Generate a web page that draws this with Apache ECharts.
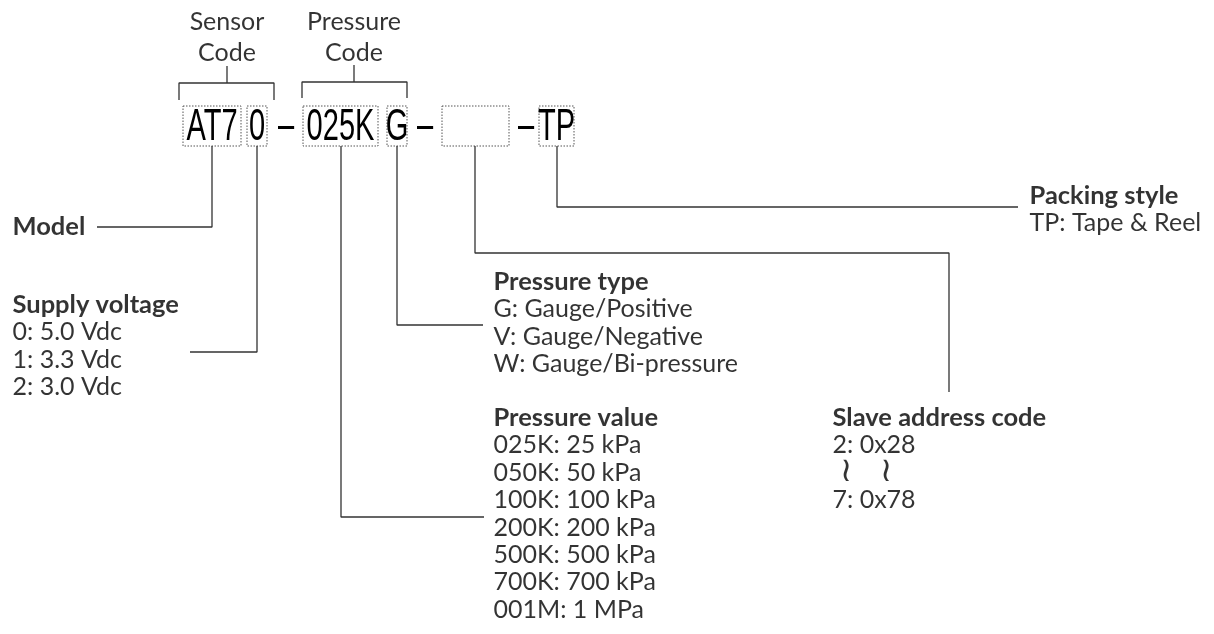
<!DOCTYPE html>
<html>
<head>
<meta charset="utf-8">
<script src="https://cdn.jsdelivr.net/npm/echarts@6/dist/echarts.min.js"></script>
<style>
  html, body { margin: 0; padding: 0; background: #fff; }
  #chart { width: 1214px; height: 634px; }
</style>
</head>
<body>
<div id="chart"></div>
<script>
// part number pieces, shown in dotted boxes
const codeParts = ['AT7', '0', '025K', 'G', '', 'TP'];
const codeBoxX = [[183, 241], [247, 267], [303, 378], [387, 407], [442, 509], [539, 574]];
const dashX = [286, 425, 526];

// captions above brackets
const captions = [['Sensor', 'Code'], ['Pressure', 'Code']];
const captionX = [227, 354];

// legend blocks: heading + lines
const modelTitle = 'Model';
const supplyTitle = 'Supply voltage';
const supplyItems = ['0: 5.0 Vdc', '1: 3.3 Vdc', '2: 3.0 Vdc'];
const typeTitle = 'Pressure type';
const typeItems = ['G: Gauge/Positive', 'V: Gauge/Negative', 'W: Gauge/Bi-pressure'];
const valueTitle = 'Pressure value';
const valueItems = ['025K: 25 kPa', '050K: 50 kPa', '100K: 100 kPa', '200K: 200 kPa',
  '500K: 500 kPa', '700K: 700 kPa', '001M: 1 MPa'];
const slaveTitle = 'Slave address code';
const slaveItems = ['2: 0x28', '', '7: 0x78'];
const packTitle = 'Packing style';
const packItems = ['TP: Tape & Reel'];

// connector paths (diagram coordinates)
const brackets = [
  [[179, 100], [179, 83], [274, 83], [274, 100]],
  [[227, 83], [227, 66]],
  [[302, 98], [302, 82], [407, 82], [407, 98]],
  [[354, 82], [354, 65]]
];
const connectors = [
  [[212, 146], [212, 227], [97, 227]],
  [[257, 146], [257, 352], [190, 352]],
  [[341, 146], [341, 517], [484, 517]],
  [[397, 146], [397, 325], [483, 325]],
  [[475, 146], [475, 253], [949, 253], [949, 392]],
  [[557, 146], [557, 207], [1018, 207]]
];

const W = 1214, H = 634;
const boxTop = 106, boxBottom = 146;
const lineGap = 27.4;

const headings = [];
const bodies = [];
function block(x, y, title, items) {
  headings.push([x, y, title]);
  items.forEach((t, i) => {
    if (t) bodies.push([x, y + (i + 1) * lineGap, t]);
  });
}
headings.push([12, 227, modelTitle]);
block(12, 305, supplyTitle, supplyItems);
block(493, 282, typeTitle, typeItems);
block(493, 418, valueTitle, valueItems);
block(832, 418, slaveTitle, slaveItems);
block(1029, 196, packTitle, packItems);

const squiggles = [[846, 472, '≀'], [886, 472, '≀']];

const codeText = codeParts
  .map((t, i) => [(codeBoxX[i][0] + codeBoxX[i][1]) / 2, 128, t])
  .filter(d => d[2]);
const dashText = dashX.map(x => [x, 127, '–']);

const captionText = [];
captions.forEach((c, i) => {
  captionText.push([captionX[i], 22, c[0]]);
  captionText.push([captionX[i], 53, c[1]]);
});

const lineColor = '#333';
const textFont = 'Lato';
const codeFont = '"Liberation Sans", Arial, sans-serif';

function textSeries(data, label) {
  return {
    type: 'scatter',
    data: data,
    symbolSize: 1,
    itemStyle: { color: 'rgba(0,0,0,0)' },
    silent: true,
    label: Object.assign({
      show: true,
      color: '#000',
      formatter: p => p.data[2]
    }, label)
  };
}

// narrow text for the part number (condensed horizontally)
function codeSeries(data, size) {
  return {
    type: 'custom',
    silent: true,
    data: data,
    renderItem: (params, api) => {
      const p = api.coord([api.value(0), api.value(1)]);
      return {
        type: 'text',
        x: p[0],
        y: p[1],
        scaleX: 0.66,
        style: {
          text: data[params.dataIndex][2],
          fontFamily: codeFont,
          fontSize: size,
          align: 'center',
          verticalAlign: 'middle',
          fill: '#000'
        }
      };
    }
  };
}

function pathSeries(path) {
  return {
    type: 'line',
    data: path,
    symbol: 'none',
    silent: true,
    lineStyle: { color: lineColor, width: 1.3 }
  };
}

const chart = echarts.init(document.getElementById('chart'));
chart.setOption({
  animation: false,
  backgroundColor: '#fff',
  grid: { left: 0, right: 0, top: 0, bottom: 0 },
  xAxis: { type: 'value', min: 0, max: W, show: false },
  yAxis: { type: 'value', min: 0, max: H, inverse: true, show: false },
  series: [
    ...brackets.map(pathSeries),
    ...connectors.map(pathSeries),
    {
      type: 'custom',
      silent: true,
      data: codeBoxX.map(b => [b[0], boxTop, b[1], boxBottom]),
      renderItem: (params, api) => {
        const p0 = api.coord([api.value(0), api.value(1)]);
        const p1 = api.coord([api.value(2), api.value(3)]);
        return {
          type: 'rect',
          shape: { x: p0[0], y: p0[1], width: p1[0] - p0[0], height: p1[1] - p0[1] },
          style: { fill: 'none', stroke: '#555', lineWidth: 1, lineDash: [1.5, 1.5] }
        };
      }
    },
    codeSeries(codeText, 44),
    codeSeries(dashText, 44),
    textSeries(captionText, { position: 'inside', fontFamily: textFont, fontSize: 25 }),
    textSeries(headings, { position: 'right', distance: 0, fontFamily: textFont, fontSize: 25.5, fontWeight: 'bold' }),
    textSeries(bodies, { position: 'right', distance: 0, fontFamily: textFont, fontSize: 25 }),
    textSeries(squiggles, { position: 'inside', fontFamily: 'DejaVu Sans', fontSize: 34 })
  ]
});
</script>
</body>
</html>
